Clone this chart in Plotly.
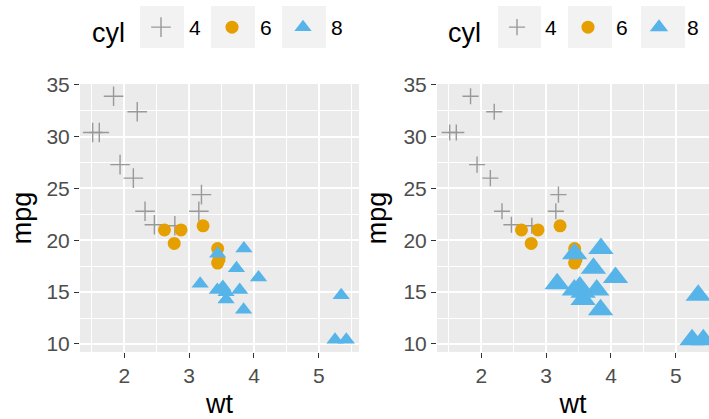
import plotly.graph_objects as go
import pandas as pd

# mtcars: weight (1000 lbs), miles per gallon, cylinders
wt = [2.620, 2.875, 2.320, 3.215, 3.440, 3.460, 3.570, 3.190, 3.150, 3.440,
      3.440, 4.070, 3.730, 3.780, 5.250, 5.424, 5.345, 2.200, 1.615, 1.835,
      2.465, 3.520, 3.435, 3.840, 3.845, 1.935, 2.140, 1.513, 3.170, 2.770,
      3.570, 2.780]
mpg = [21.0, 21.0, 22.8, 21.4, 18.7, 18.1, 14.3, 24.4, 22.8, 19.2,
       17.8, 16.4, 17.3, 15.2, 10.4, 10.4, 14.7, 32.4, 30.4, 33.9,
       21.5, 15.5, 15.2, 13.3, 19.2, 27.3, 26.0, 30.4, 15.8, 19.7,
       15.0, 21.4]
cyl = [6, 6, 4, 6, 8, 6, 8, 4, 4, 6,
       6, 8, 8, 8, 8, 8, 8, 4, 4, 4,
       4, 8, 8, 8, 8, 4, 4, 4, 8, 6,
       8, 4]
cyl_levels = [4, 6, 8]
x_ticks = [2, 3, 4, 5]
y_ticks = [10, 15, 20, 25, 30, 35]

df = pd.DataFrame({"wt": wt, "mpg": mpg, "cyl": cyl})

colors = {4: "#999999", 6: "#E69F00", 8: "#56B4E9"}
symbols = {4: "cross-thin-open", 6: "circle", 8: "triangle-up"}
sizes_left = {4: 14, 6: 13, 8: 15}
sizes_right = {4: 11.5, 6: 13, 8: 22}

FONT = "Liberation Sans"
TICK_SIZE = 21
TITLE_SIZE = 27
fig = go.Figure()

for xa, ya, lg, sizes in [("x", "y", "legend", sizes_left),
                          ("x2", "y2", "legend2", sizes_right)]:
    for c in cyl_levels:
        d = df[df.cyl == c]
        fig.add_trace(go.Scatter(
            x=d.wt, y=d.mpg, mode="markers", name=str(c),
            xaxis=xa, yaxis=ya, legend=lg,
            marker=dict(symbol=symbols[c], color=colors[c], size=sizes[c],
                        line=dict(color=colors[c], width=1.4 if c == 4 else 0)),
            showlegend=True,
        ))

W, H = 709, 419
ml, mr, mt, mb = 80, 0, 84, 67
pw = W - ml - mr
ph = H - mt - mb

def px_x(p):
    return (p - ml) / pw

def px_y(p):
    return (H - mb - p) / ph

axis_common = dict(
    showgrid=True, gridcolor="white", gridwidth=2,
    ticks="outside", ticklen=5, tickwidth=1.4, tickcolor="#333333",
    tickfont=dict(family=FONT, size=TICK_SIZE, color="#4D4D4D"),
    zeroline=False, showline=False,
)
xr_left = [1.3175, 5.6195]
xr_right = [1.3175, 1.3175 + (W - 437) / ((359 - 80) / (5.6195 - 1.3175))]
yr = [9.225, 35.075]

def xminor():
    return dict(dtick=0.5, tick0=0, showgrid=True, gridcolor="white", gridwidth=1, ticks="")

def yminor():
    return dict(dtick=2.5, tick0=0, showgrid=True, gridcolor="white", gridwidth=1, ticks="")

def title(t, s):
    return dict(text=t, font=dict(family=FONT, size=TITLE_SIZE, color="black"), standoff=s)

def legend_cfg(xpix):
    return dict(orientation="h", x=px_x(xpix), xanchor="left", y=px_y(30), yanchor="middle",
                bgcolor="rgba(0,0,0,0)", itemwidth=46, entrywidth=10,
                title=dict(text="cyl", font=dict(family=FONT, size=TITLE_SIZE, color="black"),
                           side="left"),
                font=dict(family=FONT, size=TICK_SIZE, color="black"), itemclick=False)

fig.update_layout(
    width=W, height=H,
    margin=dict(l=ml, r=mr, t=mt, b=mb, autoexpand=False),
    paper_bgcolor="white", plot_bgcolor="#EBEBEB",
    font=dict(family=FONT, color="black"),
    xaxis=dict(domain=[0, px_x(359)], range=xr_left, tickvals=x_ticks, anchor="y",
               minor=xminor(), title=title("wt", 9), **axis_common),
    yaxis=dict(domain=[0, 1], range=yr, tickvals=y_ticks, anchor="x",
               minor=yminor(), title=title("mpg", 6), **axis_common),
    xaxis2=dict(domain=[px_x(437), 1], range=xr_right, tickvals=x_ticks, anchor="y2",
                minor=xminor(), title=title("wt", 9), **axis_common),
    yaxis2=dict(domain=[0, 1], range=yr, tickvals=y_ticks, anchor="x2",
                minor=yminor(), title=title("mpg", 8), **axis_common),
    legend=legend_cfg(90),
    legend2=legend_cfg(446),
)

# legend key backgrounds (ggplot style)
key_boxes = [(140, 184), (211, 255), (282, 326), (498, 541), (568, 612), (641, 685)]
for x0, x1 in key_boxes:
    fig.add_shape(type="rect", xref="paper", yref="paper",
                  x0=px_x(x0), x1=px_x(x1), y0=px_y(48), y1=px_y(6),
                  fillcolor="#F2F2F2", line=dict(width=0), layer="below")

fig.write_html("out.html", config={"displayModeBar": False},
               post_script="document.body.style.margin='0';document.body.style.overflow='hidden';")
